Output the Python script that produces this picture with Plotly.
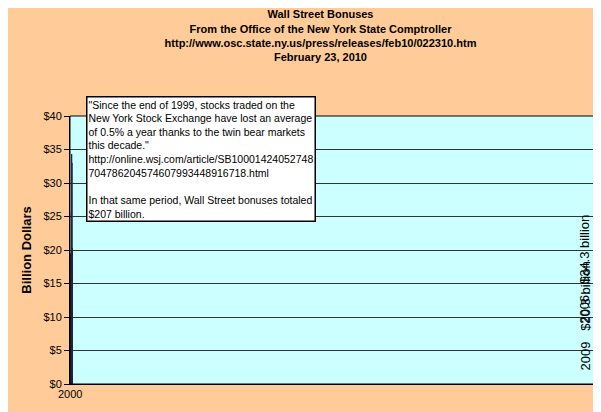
import plotly.graph_objects as go

years = ["2000","2001","2002","2003","2004","2005","2006","2007","2008","2009"]
bonuses = [19.5, 13.0, 9.8, 15.8, 18.6, 25.6, 34.3, 33.0, 17.4, 20.3]
tick_vals = [0,5,10,15,20,25,30,35,40]
tick_text = ["$0","$5","$10","$15","$20","$25","$30","$35","$40"]
bar_labels = {"2006": "2006   $34.3 billion", "2009": "2009   $20.3 billion"}

fig = go.Figure(go.Bar(
    x=years, y=bonuses, width=0.35,
    marker=dict(color="#9999FF", line=dict(color="#222244", width=1)),
))
for yr, lab in bar_labels.items():
    v = bonuses[years.index(yr)]
    fig.add_annotation(x=yr, y=v/2, text=lab, textangle=-90, showarrow=False,
                       font=dict(family="Liberation Sans, Arial", size=13, color="black"))

fig.add_annotation(
    xref="paper", yref="paper", x=0.03, y=1.075, xanchor="left", yanchor="top",
    align="left", showarrow=False, bgcolor="white", bordercolor="black", borderwidth=1.5,
    font=dict(family="Liberation Sans, Arial", size=10.5, color="black"),
    text=('"Since the end of 1999, stocks traded on the<br>New York Stock Exchange have lost an average<br>'
          'of 0.5% a year thanks to the twin bear markets<br>this decade."<br>'
          'http://online.wsj.com/article/SB10001424052748<br>704786204574607993448916718.html<br><br>'
          'In that same period, Wall Street bonuses totaled<br>$207 billion.'),
)

fig.update_layout(
    width=601, height=412,
    margin=dict(l=62, r=15, t=108, b=36),
    paper_bgcolor="#FFCC99", plot_bgcolor="#CCFFFF",
    showlegend=False,
    title=dict(text=("<b>Wall Street Bonuses<br>From the Office of the New York State Comptroller<br>"
                     "http://www.osc.state.ny.us/press/releases/feb10/022310.htm<br>February 23, 2010</b>"),
               x=0.52, xanchor="center", y=0.975, yanchor="top",
               font=dict(family="Liberation Sans, Arial", size=11, color="black")),
    font=dict(family="Liberation Sans, Arial", size=11, color="black"),
    xaxis=dict(type="category", showline=True, linecolor="black", ticks="", tickfont=dict(size=11)),
    yaxis=dict(range=[0,40], tickvals=tick_vals, ticktext=tick_text, showgrid=True,
               gridcolor="#333333", gridwidth=1, showline=True, linecolor="black",
               ticks="outside", ticklen=5, tickcolor="black", zeroline=False,
               title=dict(text="<b>Billion Dollars</b>", font=dict(size=13), standoff=8)),
    shapes=[dict(type="rect", xref="paper", yref="paper", x0=0, x1=1, y0=0, y1=1,
                 line=dict(color="black", width=1))],
    bargap=0.5,
)
fig.write_html("out.html")
